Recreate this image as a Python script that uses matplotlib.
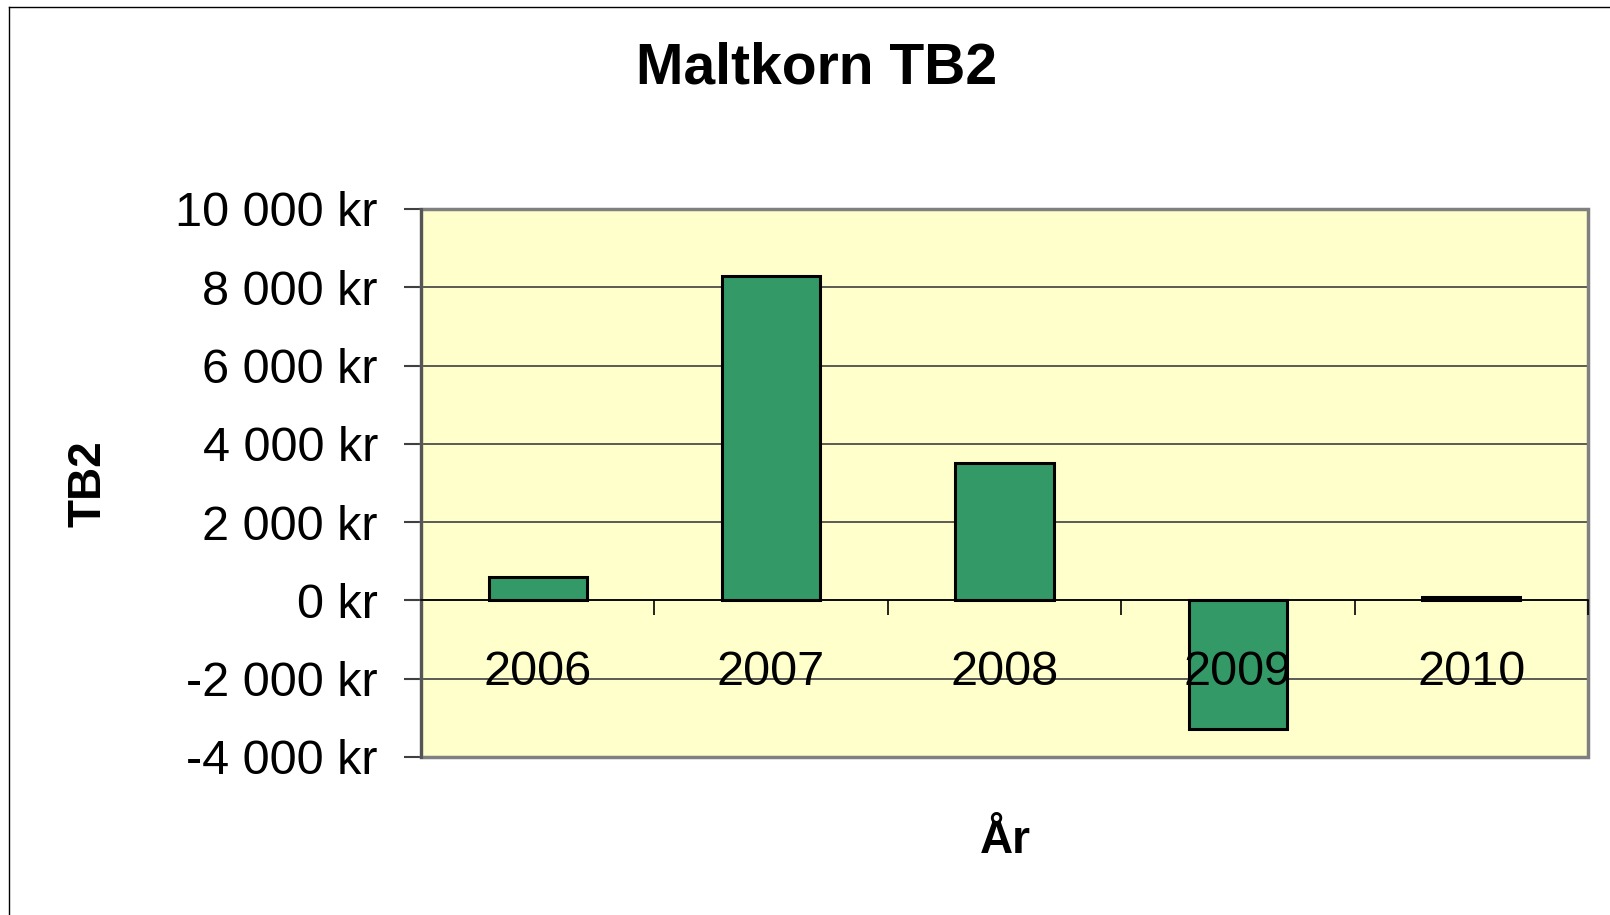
import matplotlib
matplotlib.use("Agg")
import matplotlib.pyplot as plt
from matplotlib.patches import Rectangle
from matplotlib.lines import Line2D
from matplotlib.ticker import FixedLocator, FuncFormatter

years = ["2006", "2007", "2008", "2009", "2010"]
tb2 = [600, 8300, 3500, -3280, 80]
y_ticks = [-4000, -2000, 0, 2000, 4000, 6000, 8000, 10000]
title = "Maltkorn TB2"
xlabel = "År"
ylabel = "TB2"

plt.rcParams['font.family'] = ['Liberation Sans', 'DejaVu Sans']

fig = plt.figure(figsize=(16.1, 9.15), dpi=100)
fig.patch.set_facecolor('white')
ax = fig.add_axes([421/1610, 1-757/915, (1588-421)/1610, (757-209)/915])
ax.set_facecolor('#FFFFCC')

x = list(range(len(years)))
ax.bar(x, tb2, width=0.42, color='#339966', edgecolor='black', linewidth=2.2, zorder=3)

ax.set_xlim(-0.5, len(years) - 0.5)
ax.set_ylim(y_ticks[0], y_ticks[-1])

# Gridlines (below bars)
ax.yaxis.set_major_locator(FixedLocator(y_ticks))
ax.yaxis.set_major_formatter(FuncFormatter(lambda v, p: f"{int(v):,}".replace(",", " ") + " kr"))
ax.grid(axis='y', color='#404040', linewidth=1.2)
ax.set_axisbelow(True)
ax.tick_params(axis='y', direction='out', length=12, width=1.5, color='#404040',
               labelsize=35, pad=19)

# x-axis at zero
for s in ['top', 'right']:
    ax.spines[s].set_visible(False)
ax.spines['bottom'].set_position(('data', 0))
ax.spines['bottom'].set_color('black')
ax.spines['bottom'].set_linewidth(1.2)
ax.spines['bottom'].set_zorder(4)
ax.spines['left'].set_color('#555555')
ax.spines['left'].set_linewidth(2.2)

ax.xaxis.set_major_locator(FixedLocator([i + 0.5 for i in range(len(years))]))
ax.xaxis.set_minor_locator(FixedLocator(x))
ax.xaxis.set_major_formatter(FuncFormatter(lambda v, p: ""))
ax.xaxis.set_minor_formatter(FuncFormatter(lambda v, p: years[int(round(v))] if 0 <= round(v) < len(years) else ""))
ax.tick_params(axis='x', which='major', direction='out', length=11, width=1.2, color='black')
ax.tick_params(axis='x', which='minor', length=0, labelsize=35, pad=36)
ax.xaxis.set_zorder(5)  # category labels drawn over the bars

# plot frame
ax.add_patch(Rectangle((0, 0), 1, 1, transform=ax.transAxes, fill=False,
                       edgecolor='#808080', linewidth=2.5, clip_on=False, zorder=2))

# titles and labels
fig.text(817/1610, 1-83/915, title, ha='center', va='baseline', fontsize=41, fontweight='bold')
fig.text(1005/1610, 1-853/915, xlabel, ha='center', va='baseline', fontsize=33, fontweight='bold')
fig.text(88/1610, 1-484/915, ylabel, ha='center', va='center', rotation=90, fontsize=33, fontweight='bold')

# outer chart border (top and left visible)
fig.add_artist(Line2D([9/1610, 9/1610], [0, 1-7/915], color='black', linewidth=1.0, transform=fig.transFigure))
fig.add_artist(Line2D([9/1610, 1], [1-7/915, 1-7/915], color='black', linewidth=1.0, transform=fig.transFigure))

fig.savefig("out.png", dpi=100)
